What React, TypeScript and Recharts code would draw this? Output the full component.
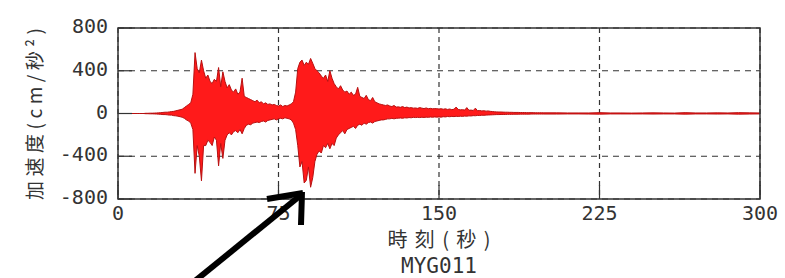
import {
  ComposedChart,
  Area,
  XAxis,
  YAxis,
  CartesianGrid,
  ReferenceArea,
} from "recharts";

// axis ticks and titles
const xTicks = [0, 75, 150, 225, 300];
const yTicks = [-800, -400, 0, 400, 800];
const xTitle = "時刻(秒)";
const yTitle = "加速度(cm/秒²)";
const stationCode = "MYG011";

// peak acceleration envelope, one sample per second from 0 s to 199 s (cm/s²)
const upperDense = [
  0, 0, 0, 0, 0, 0, 0, 0, 0, 0,
  0, 0, 0, 2, 2, 3, 3, 4, 5, 6,
  8, 10, 12, 12, 15, 18, 20, 25, 30, 35,
  40, 55, 70, 85, 100, 180, 570, 420, 380, 500,
  400, 330, 360, 300, 280, 320, 300, 430, 250, 390,
  300, 240, 270, 220, 200, 230, 180, 200, 330, 160,
  150, 140, 130, 120, 110, 125, 100, 110, 90, 100,
  85, 90, 80, 85, 75, 70, 80, 65, 75, 70,
  80, 90, 110, 200, 420, 480, 500, 450, 480, 460,
  515, 470, 420, 400, 380, 350, 330, 360, 300, 400,
  330, 280, 250, 230, 260, 220, 200, 210, 180, 200,
  170, 180, 245, 160, 150, 140, 170, 130, 120, 150,
  110, 100, 90, 85, 80, 75, 80, 70, 65, 75,
  60, 62, 58, 65, 55, 60, 52, 55, 50, 52,
  48, 55, 50, 46, 52, 45, 48, 44, 46, 45,
  42, 45, 40, 44, 38, 42, 36, 40, 60, 38,
  34, 36, 32, 55, 30, 32, 28, 50, 26, 28,
  24, 26, 22, 24, 20, 18, 16, 15, 14, 14,
  13, 12, 12, 11, 11, 10, 10, 10, 9, 9,
  9, 8, 8, 8, 8, 7, 7, 7, 7, 6,
];

const lowerDense = [
  0, 0, 0, 0, 0, 0, 0, 0, 0, 0,
  0, 0, 0, -2, -2, -3, -3, -4, -5, -6,
  -8, -10, -10, -12, -15, -15, -20, -22, -25, -30,
  -35, -45, -60, -70, -90, -150, -560, -300, -400, -630,
  -300, -300, -250, -270, -300, -220, -250, -490, -280, -420,
  -250, -200, -180, -200, -170, -160, -180, -150, -190, -140,
  -110, -100, -105, -90, -85, -80, -85, -75, -70, -80,
  -65, -60, -55, -50, -60, -50, -45, -50, -40, -45,
  -50, -60, -90, -150, -300, -500, -450, -650, -625, -500,
  -690, -600, -450, -380, -350, -370, -300, -320, -280, -330,
  -280, -300, -230, -200, -180, -160, -190, -150, -140, -130,
  -120, -140, -110, -100, -110, -90, -100, -85, -80, -90,
  -75, -70, -65, -60, -60, -55, -50, -50, -45, -50,
  -45, -44, -42, -45, -40, -42, -38, -40, -36, -38,
  -36, -38, -35, -37, -34, -36, -33, -35, -32, -34,
  -32, -34, -30, -32, -28, -30, -27, -29, -26, -28,
  -25, -27, -24, -25, -22, -23, -20, -21, -18, -19,
  -16, -17, -15, -14, -13, -12, -11, -10, -10, -9,
  -9, -9, -8, -8, -8, -7, -7, -7, -6, -6,
  -6, -6, -6, -5, -5, -5, -5, -5, -5, -5,
];

// coda, coarser samples
const tailTimes = [200, 205, 210, 215, 220, 225, 230, 235, 240, 245, 250, 255, 260, 265, 270, 275, 280, 285, 290, 295, 300];
const tailUpper = [6, 6, 5, 5, 5, 8, 5, 5, 4, 5, 6, 5, 4, 8, 5, 5, 6, 5, 8, 6, 5];
const tailLower = [-5, -5, -4, -4, -5, -6, -4, -4, -4, -4, -5, -4, -4, -6, -4, -4, -5, -4, -6, -5, -4];

const data = [
  ...upperDense.map((u, i) => ({ t: i, range: [lowerDense[i], u] })),
  ...tailTimes.map((t, i) => ({ t, range: [tailLower[i], tailUpper[i]] })),
];

const ink = "#333";
const monoFont = "DejaVu Sans Mono";
const cjkFont = "Noto Sans CJK JP";

const YTick = (props: any) => {
  const { x, y, payload } = props;
  return (
    <text x={x} y={y} dy={5} textAnchor="end" fontFamily={monoFont} fontSize={20} fill={ink}>
      {payload.value}
    </text>
  );
};

const XTick = (props: any) => {
  const { x, y, payload } = props;
  return (
    <text x={x} y={y} dy={15} textAnchor="middle" fontFamily={monoFont} fontSize={20} fill={ink}>
      {payload.value}
    </text>
  );
};

const YTitle = () => (
  <text
    transform="translate(33,114) rotate(-90)"
    textAnchor="middle"
    dominantBaseline="central"
    textLength={172}
    lengthAdjust="spacing"
    fontFamily={cjkFont}
    fontSize={19}
    fill={ink}
  >
    {yTitle}
  </text>
);

const XTitle = (props: any) => {
  const vb = props.viewBox;
  const cx = vb.x + vb.width / 2;
  return (
    <g>
      <text
        x={cx}
        y={vb.y + 39}
        textAnchor="middle"
        dominantBaseline="central"
        textLength={103}
        lengthAdjust="spacing"
        fontFamily={cjkFont}
        fontSize={20}
        fill={ink}
      >
        {xTitle}
      </text>
      <text
        x={cx}
        y={vb.y + 67}
        textAnchor="middle"
        dominantBaseline="central"
        fontFamily={monoFont}
        fontSize={21}
        fill={ink}
      >
        {stationCode}
      </text>
    </g>
  );
};

export default function App() {
  return (
    <div style={{ position: "absolute", left: 0, top: 0, width: 785, height: 278, background: "#fff" }}>
      <ComposedChart
        width={785}
        height={278}
        data={data}
        margin={{ top: 28, right: 25, bottom: 0, left: 0 }}
      >
        <CartesianGrid vertical={false} stroke={ink} strokeWidth={1.2} strokeDasharray="6 5" />
        <CartesianGrid horizontal={false} stroke={ink} strokeWidth={1.2} strokeDasharray="5 4" />

        <XAxis
          dataKey="t"
          type="number"
          domain={[0, 300]}
          ticks={xTicks}
          interval={0}
          height={79}
          axisLine={false}
          tickSize={-14}
          tickMargin={20}
          tickLine={{ stroke: ink, strokeWidth: 1.2 }}
          tick={<XTick />}
          label={{ content: <XTitle /> }}
        />
        <XAxis
          xAxisId="top"
          orientation="top"
          type="number"
          domain={[0, 300]}
          ticks={xTicks}
          interval={0}
          height={0}
          axisLine={false}
          tickSize={-14}
          tickLine={{ stroke: ink, strokeWidth: 1.2 }}
          tick={false}
        />
        <YAxis
          type="number"
          domain={[-800, 800]}
          ticks={yTicks}
          interval={0}
          width={118}
          axisLine={false}
          tickSize={-14}
          tickMargin={24}
          tickLine={{ stroke: ink, strokeWidth: 1.2 }}
          tick={<YTick />}
          label={{ content: <YTitle /> }}
        />
        <YAxis
          yAxisId="right"
          orientation="right"
          type="number"
          domain={[-800, 800]}
          ticks={yTicks}
          interval={0}
          width={0}
          axisLine={false}
          tickSize={-14}
          tickLine={{ stroke: ink, strokeWidth: 1.2 }}
          tick={false}
        />

        <Area
          dataKey="range"
          type="linear"
          stroke="#b81010"
          strokeWidth={1}
          fill="#ff1a1a"
          fillOpacity={1}
          dot={false}
          activeDot={false}
          isAnimationActive={false}
        />

        <ReferenceArea
          x1={0}
          x2={300}
          y1={-800}
          y2={800}
          fill="none"
          fillOpacity={0}
          stroke={ink}
          strokeWidth={1.5}
        />
      </ComposedChart>

      <svg
        width={785}
        height={278}
        style={{ position: "absolute", left: 0, top: 0, pointerEvents: "none" }}
      >
        <g stroke="#000" strokeWidth={6} strokeLinecap="butt">
          <line x1={190} y1={285} x2={301} y2={195} />
          <line x1={303} y1={193} x2={267} y2={199} />
          <line x1={302} y1={192} x2={301} y2={225} />
        </g>
      </svg>
    </div>
  );
}
